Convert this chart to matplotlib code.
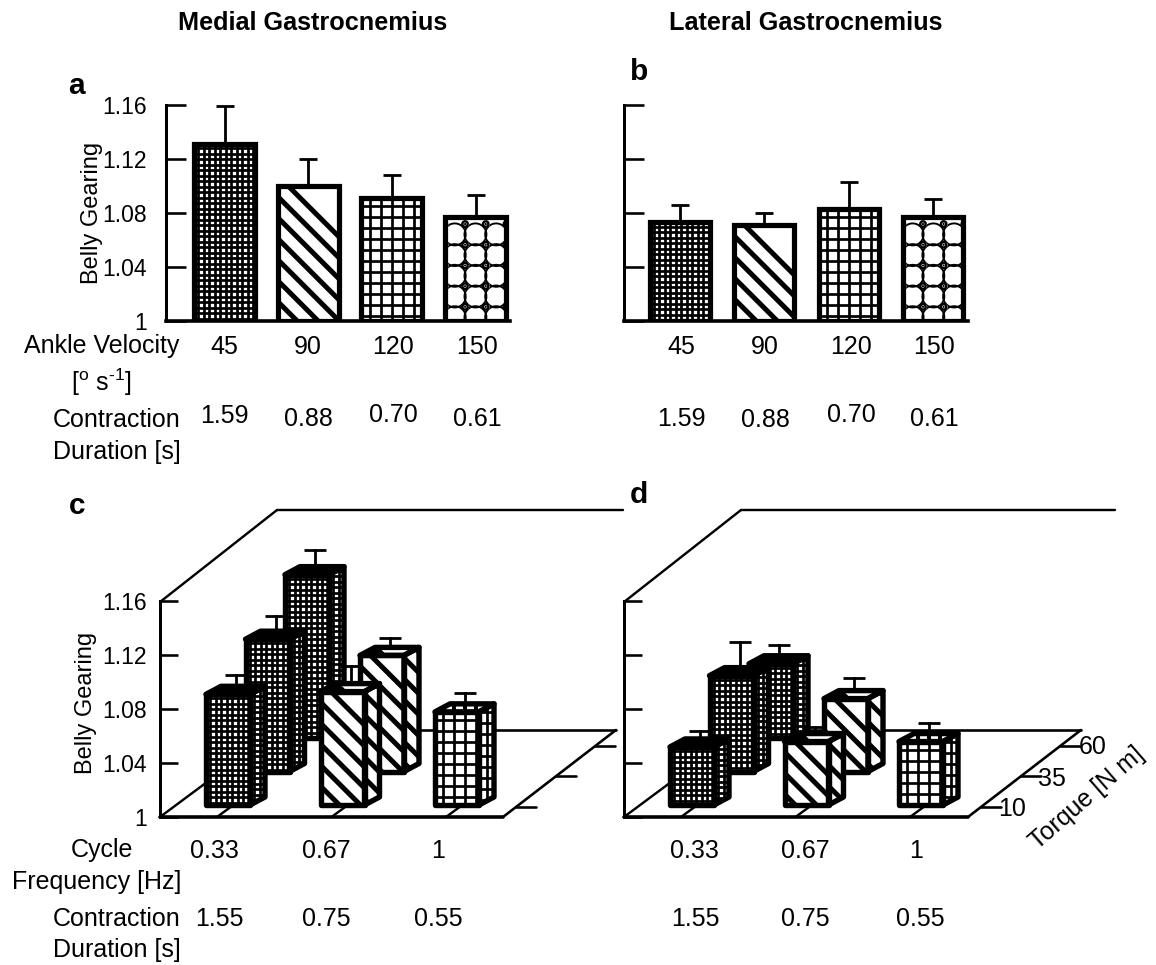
import numpy as np
import matplotlib
matplotlib.use("Agg")
import matplotlib.pyplot as plt
from matplotlib.collections import LineCollection
from matplotlib.patches import Polygon
from matplotlib.transforms import IdentityTransform

plt.rcParams['font.family'] = ['Liberation Sans', 'DejaVu Sans']

# ---------- data ----------
velocity_labels = ['45', '90', '120', '150']
duration_labels_top = ['1.59', '0.88', '0.70', '0.61']
mg_values = [1.131, 1.100, 1.091, 1.077]
mg_caps = [1.159, 1.120, 1.108, 1.093]
lg_values = [1.073, 1.071, 1.083, 1.077]
lg_caps = [1.086, 1.080, 1.103, 1.090]
gearing_ticks = [1, 1.04, 1.08, 1.12, 1.16]
gearing_tick_labels = ['1', '1.04', '1.08', '1.12', '1.16']
top_patterns = ['dense', 'diag', 'grid', 'circ']

freq_labels = ['0.33', '0.67', '1']
duration_labels_bottom = ['1.55', '0.75', '0.55']
torque_labels = ['10', '35', '60']
box_freq = [0, 0, 0, 1, 1, 2]
box_torque = [2, 1, 0, 1, 0, 0]
box_patterns = ['dense', 'dense', 'dense', 'diag', 'diag', 'grid']
mg_box_values = [1.121, 1.098, 1.082, 1.086, 1.084, 1.069]
mg_box_errs = [0.018, 0.017, 0.014, 0.013, 0.019, 0.014]
lg_box_values = [1.055, 1.071, 1.043, 1.054, 1.047, 1.047]
lg_box_errs = [0.014, 0.025, 0.012, 0.015, 0.011, 0.014]

# ---------- layout ----------
W, H = 1156, 965
PX = 0.72
FS = 18
TICK_FS = 16.5
fig = plt.figure(figsize=(W / 100, H / 100), dpi=100, facecolor='white')


def axes_px(L, T, R, B):
    ax = fig.add_axes([L / W, 1 - B / H, (R - L) / W, (B - T) / H])
    ax.patch.set_alpha(0)
    return ax


def label(x, y, s, ha='center', va='center', size=FS, **kw):
    fig.text(x / W, 1 - (y + 1.5) / H, s, ha=ha, va=va, fontsize=size, color='black', **kw)


def circle_seg(cx, cy, r, n=40):
    a = np.linspace(0, 2 * np.pi, n)
    return np.column_stack([cx + r * np.cos(a), cy + r * np.sin(a)])


def fill_pattern(ax, patch, kind, z, heavy=False):
    bb = patch.get_window_extent()
    x0, x1, y0, y1 = bb.x0, bb.x1, bb.y0, bb.y1
    groups = []
    if kind in ('dense', 'grid'):
        s, lw = (5.5, 2.7) if kind == 'dense' else (11, 2.7)
        segs = []
        for x in np.arange(x0 + s * 0.75, x1, s):
            segs.append([(x, y0), (x, y1)])
        for y in np.arange(y1 - s * 0.75, y0, -s):
            segs.append([(x0, y), (x1, y)])
        groups.append((segs, lw * (1.5 if heavy else 1)))
    elif kind == 'diag':
        period = 21
        segs = []
        span = (x1 - x0) + (y1 - y0)
        for c in np.arange(-period * 0.5, span + period, period):
            segs.append([(x0 - 5, y1 - c + 5), (x0 + span + 5, y1 - c - span - 5)])
        groups.append((segs, 12.0 if heavy else 5.0))
    else:
        p = 20.7
        xs = np.arange(x0 - 0.7, x1 + p, p)
        ys = np.arange(y1 - 7, y0 - p, -p)
        big = [circle_seg(x + p / 2, y - p / 2, 11.0) for x in xs - p for y in ys]
        small = [circle_seg(x, y, 2.8, 14) for x in xs for y in ys]
        dots = [circle_seg(x, y, 0.5, 8) for x in xs for y in ys]
        groups += [(big, 1.9), (small, 2.4), (dots, 1.2)]
    for i, (segs, lw) in enumerate(groups):
        if i == 1:
            wc = LineCollection([circle_seg(s_[0, 0] - 1.4, s_[0, 1], 1.4, 10) for s_ in segs],
                                colors='white', linewidths=3 * PX, zorder=z)
            ax.add_collection(wc, autolim=False)
            wc.set_transform(IdentityTransform())
            wc.set_clip_path(patch)
        lc = LineCollection(segs, colors='black', linewidths=lw * PX, zorder=z,
                            capstyle='butt')
        ax.add_collection(lc, autolim=False)
        lc.set_transform(IdentityTransform())
        lc.set_clip_path(patch)


def top_panel(L, R, x_first, x_step, bar_px, values, caps, show_labels, xs_text, ys_dur):
    ax = axes_px(L, 105, R, 321)
    ax.set_ylim(1, 1.16)
    ax.set_xlim((L - x_first) / x_step, (R - x_first) / x_step)
    for s in ('top', 'right'):
        ax.spines[s].set_visible(False)
    ax.spines['left'].set_linewidth(3 * PX)
    ax.spines['bottom'].set_linewidth(3.6 * PX)
    ax.set_yticks(gearing_ticks)
    ax.set_yticklabels(gearing_tick_labels if show_labels else [''] * 5)
    ax.tick_params(axis='y', direction='in', length=20 * PX, width=2.6 * PX,
                   pad=19 * PX, labelsize=TICK_FS)
    ax.set_xticks([])
    x = np.arange(len(values))
    w = bar_px / x_step
    ax.vlines(x, values, caps, color='black', lw=2.8 * PX, zorder=1)
    ax.plot(x, caps, ls='none', marker='_', ms=18 * PX, mew=2.8 * PX, color='black', zorder=1)
    base = ax.bar(x, np.array(values) - 1, w, bottom=1, color='white', lw=0, zorder=2)
    for p, k in zip(base.patches, top_patterns):
        fill_pattern(ax, p, k, 2.5)
    ax.bar(x, np.array(values) - 1, w, bottom=1, fill=False, edgecolor='black',
           lw=5.2 * PX, zorder=3, joinstyle='miter')
    for xt, s in zip(xs_text, velocity_labels):
        label(xt, 345, s)
    for xt, yt, s in zip(xs_text, ys_dur, duration_labels_top):
        label(xt, yt, s)
    return ax


top_panel(166, 510, 224.5, 83.7, 61, mg_values, mg_caps, True,
          [224, 308, 393, 477], [415, 417, 413, 417])
top_panel(624, 968, 679.5, 84.5, 60, lg_values, lg_caps, False,
          [681, 765, 851, 934], [417, 418, 413, 417])

# pseudo-3D panels: frequency on x, gearing on y, torque as an oblique offset
UX = 114.5
UY = 54 / 0.04
DEPTH_X, DEPTH_Y = 39.5, 33.5
BOX_W, BOX_DX, BOX_DY = 44, 15, 8


def bottom_panel(L, wall_right, floor_right, values, errs, show_labels):
    T, B = 510, 817
    ax = axes_px(L, T, wall_right, B)
    x_off = 57
    ax.set_xlim(-x_off / UX, (wall_right - L - x_off) / UX)
    ax.set_ylim(1, 1 + (B - T) / UY)
    for s in ('top', 'right', 'bottom'):
        ax.spines[s].set_visible(False)
    ax.spines['left'].set_linewidth(3 * PX)
    ax.spines['left'].set_bounds(1, 1.16)
    ax.set_yticks(gearing_ticks)
    ax.set_yticklabels(gearing_tick_labels if show_labels else [''] * 5)
    ax.tick_params(axis='y', direction='in', length=18 * PX, width=2.6 * PX,
                   pad=(L - 147 if show_labels else 14) * PX, labelsize=TICK_FS)
    ax.set_xticks([])

    def P(px, py):
        return (px - x_off) / UX, 1 + py / UY

    fw = floor_right - L
    depth_x, depth_y = 117, 87
    line = dict(color='black', solid_capstyle='round', clip_on=False, zorder=1)

    def seg(a, b, lw):
        (x1, y1), (x2, y2) = P(*a), P(*b)
        ax.plot([x1, x2], [y1, y2], lw=lw * PX, **line)
    seg((0, 0), (fw, 0), 3.6)
    seg((0, 0), (depth_x, depth_y), 2.4)
    seg((depth_x, depth_y), (fw + depth_x - 4, depth_y), 2.6)
    seg((fw, 0), (fw + depth_x - 4, depth_y), 2.6)
    seg((0, 215), (depth_x, 215 + 92), 2.4)
    seg((depth_x, 307), (wall_right - L, 307), 2.4)
    for f in range(3):
        seg((57 + f * UX, 0), (57 + f * UX + 15, 11), 2.4)
    for py in (10, 41, 71):
        seg((fw + py * 1.29, py), (fw + py * 1.29 + 20, py), 2.6)

    z = 3.0
    for f, t, v, e, k in zip(box_freq, box_torque, values, errs, box_patterns):
        x0 = 46 + f * UX + t * DEPTH_X
        y0 = 12 + t * DEPTH_Y
        h = (v - 1) * UY
        front = [(x0, y0), (x0 + BOX_W, y0), (x0 + BOX_W, y0 + h), (x0, y0 + h)]
        side = [(x0 + BOX_W, y0), (x0 + BOX_W + BOX_DX, y0 + BOX_DY),
                (x0 + BOX_W + BOX_DX, y0 + h + BOX_DY), (x0 + BOX_W, y0 + h)]
        top = [(x0, y0 + h), (x0 + BOX_W, y0 + h),
               (x0 + BOX_W + BOX_DX, y0 + h + BOX_DY), (x0 + BOX_DX, y0 + h + BOX_DY)]
        ex, ey1 = P(x0 + 30, y0 + h)
        _, ey2 = P(0, y0 + h + e * UY)
        ax.plot([ex, ex], [ey1, ey2], color='black', lw=2.8 * PX, zorder=z, clip_on=False)
        ax.plot([ex], [ey2], ls='none', marker='_', ms=22 * PX, mew=2.8 * PX,
                color='black', zorder=z, clip_on=False)
        for face in (front, side, top):
            pts = [P(*q) for q in face]
            poly = Polygon(pts, closed=True, facecolor='white', edgecolor='none',
                           transform=ax.transData, zorder=z + 0.01, clip_on=False)
            ax.add_patch(poly)
            fill_pattern(ax, poly, k, z + 0.02, heavy=face is top)
        for face in (front, side, top):
            pts = [P(*q) for q in face]
            ax.add_patch(Polygon(pts, closed=True, fill=False, edgecolor='black',
                                 lw=5.4 * PX, joinstyle='round', zorder=z + 0.03,
                                 transform=ax.transData, clip_on=False))
        z += 0.1
    return ax


bottom_panel(160, 623, 503, mg_box_values, mg_box_errs, True)
bottom_panel(624, 1115, 968, lg_box_values, lg_box_errs, False)

# ---------- text ----------
label(313, 22, 'Medial Gastrocnemius', size=18.2, fontweight='bold')
label(806, 22, 'Lateral Gastrocnemius', size=18.2, fontweight='bold')
for x, y, s in [(76, 85, 'a'), (639, 71, 'b'), (77, 505, 'c'), (639, 494, 'd')]:
    label(x, y, s, size=21.5, fontweight='bold')

label(92, 211, 'Belly Gearing', rotation=90, size=17)
label(86, 701, 'Belly Gearing', rotation=90, size=17)
label(179, 345, 'Ankle Velocity', ha='right')
label(101, 381, '[$\\mathregular{^{o}}$ s$\\mathregular{^{\u20101}}$]')
label(181, 418, 'Contraction', ha='right')
label(181, 450, 'Duration [s]', ha='right')
label(102, 849, 'Cycle')
label(97, 880, 'Frequency [Hz]')
label(181, 918, 'Contraction', ha='right')
label(181, 949, 'Duration [s]', ha='right')

for xt, s in zip([214, 326, 438], freq_labels):
    label(xt, 849, s)
for xt, s in zip([219, 326, 438], duration_labels_bottom):
    label(xt, 917, s)
for xt, s in zip([694, 805, 916], freq_labels):
    label(xt, 849, s)
for xt, s in zip([695, 805, 920], duration_labels_bottom):
    label(xt, 917, s)
for xt, yt, s in zip([1012, 1052, 1093], [808, 777, 746], torque_labels):
    label(xt, yt, s)
label(1087, 797, 'Torque [N m]', rotation=41, rotation_mode='anchor')

fig.savefig('out.png', dpi=100, facecolor='white')
